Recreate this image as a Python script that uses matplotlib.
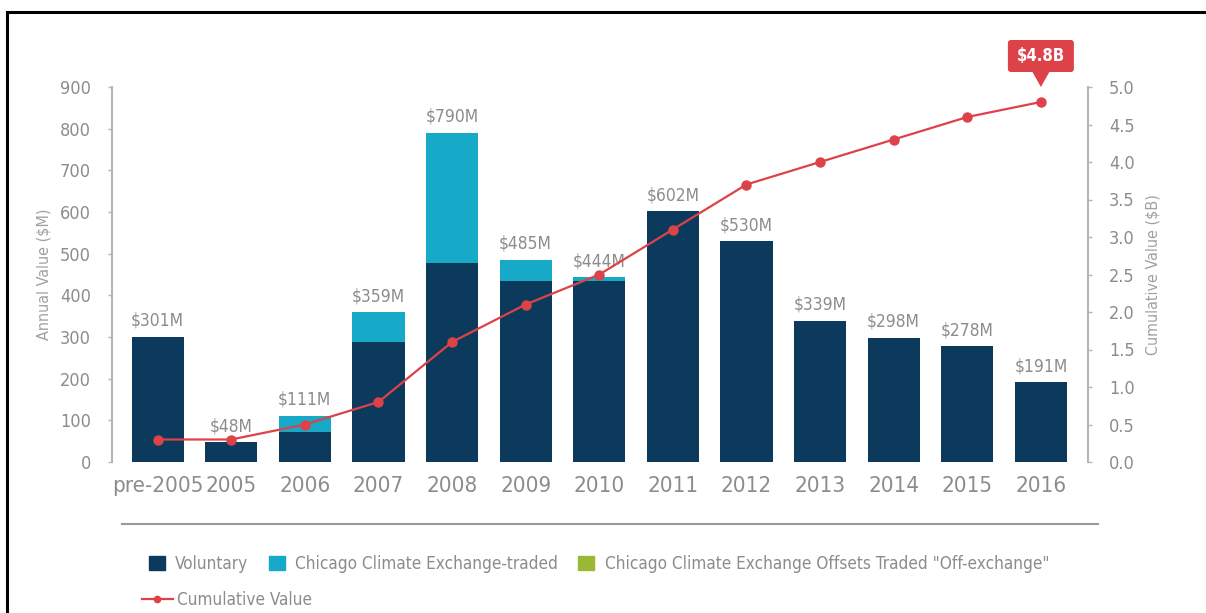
import matplotlib
matplotlib.use("Agg")
import matplotlib.pyplot as plt
from matplotlib import font_manager as fm
from matplotlib.patches import FancyBboxPatch, Polygon, Patch
from matplotlib.lines import Line2D
import numpy as np

# ---- data ----
categories = ["pre-2005", "2005", "2006", "2007", "2008", "2009", "2010",
              "2011", "2012", "2013", "2014", "2015", "2016"]
voluntary = [301, 48, 72, 287, 478, 434, 435, 602, 530, 339, 298, 278, 191]
ccx_traded = [0, 0, 39, 72, 312, 51, 9, 0, 0, 0, 0, 0, 0]
ccx_off = [0, 0, 0, 0, 0, 0, 0, 0, 0, 0, 0, 0, 0]
totals = [301, 48, 111, 359, 790, 485, 444, 602, 530, 339, 298, 278, 191]
cumulative = [0.3, 0.3, 0.5, 0.8, 1.6, 2.1, 2.5, 3.1, 3.7, 4.0, 4.3, 4.6, 4.8]
final_label = "$4.8B"
series_names = ["Voluntary", "Chicago Climate Exchange-traded",
                'Chicago Climate Exchange Offsets Traded "Off-exchange"']
line_name = "Cumulative Value"

# ---- font: prefer a condensed face if one is installed ----
cond = None
for f in fm.fontManager.ttflist:
    fn = f.fname.lower()
    if ("condensed" in fn or "narrow" in fn) and "bold" not in fn and "oblique" not in fn and "italic" not in fn:
        cond = f
        break
if cond is not None:
    plt.rcParams['font.family'] = [cond.name, 'DejaVu Sans']
    plt.rcParams['font.stretch'] = cond.stretch
    S = dict(tick=13, xtick=16, bar=12.5, label=11.5, legend=12.3)
else:
    plt.rcParams['font.family'] = ['DejaVu Sans']
    S = dict(tick=11.5, xtick=14, bar=10.5, label=10, legend=10.5)

NAVY = "#0b3a5d"
CYAN = "#16a9c8"
GREEN = "#9ab834"
RED = "#dd4248"
GRAY = "#8c8c8c"
AXGRAY = "#b5b5b5"

W, H = 1206, 613
fig = plt.figure(figsize=(W / 100, H / 100), dpi=100)

def fx(px):
    return px / W

def fy(py):
    return 1 - py / H

ax = fig.add_axes([fx(112), fy(462), fx(1088) - fx(112), fy(87) - fy(462)])
ax2 = ax.twinx()

x = np.arange(len(categories))
bw = 0.71
ax.bar(x, voluntary, bw, color=NAVY, zorder=2)
ax.bar(x, ccx_traded, bw, bottom=voluntary, color=CYAN, zorder=2)
bottom2 = np.array(voluntary) + np.array(ccx_traded)
ax.bar(x, ccx_off, bw, bottom=bottom2, color=GREEN, zorder=2)

for xi, t in zip(x, totals):
    ax.annotate(f"${t}M", (xi, t), xytext=(0, 5), textcoords="offset points",
                ha="center", va="bottom", fontsize=S['bar'], color=GRAY)

ax.set_xlim(-0.62, len(categories) - 1 + 0.64)
ax.set_ylim(0, 900)
ax.set_yticks(range(0, 901, 100))
ax2.set_ylim(0, 5.0)
rticks = np.arange(0, 5.01, 0.5)
ax2.set_yticks(rticks)
ax2.set_yticklabels([f"{v:.1f}" for v in rticks])

ax2.plot(x, cumulative, color=RED, lw=1.6, marker="o", ms=6.5, zorder=5)

for a in (ax, ax2):
    a.spines["top"].set_visible(False)
    a.spines["bottom"].set_visible(False)
    a.patch.set_visible(False)
ax.spines["right"].set_visible(False)
ax2.spines["left"].set_visible(False)
ax.spines["left"].set_color(AXGRAY)
ax.spines["left"].set_linewidth(1.5)
ax2.spines["right"].set_color(AXGRAY)
ax2.spines["right"].set_linewidth(1.5)

ax.tick_params(axis="y", colors=AXGRAY, labelcolor=GRAY, labelsize=S['tick'], length=3, width=1, pad=12)
ax2.tick_params(axis="y", colors=AXGRAY, labelcolor=GRAY, labelsize=S['tick'], length=3, width=1, pad=12)
ax.tick_params(axis="x", length=0, labelsize=S['xtick'], labelcolor=GRAY, pad=10)
ax.set_xticks(x)
ax.set_xticklabels(categories)

ax.set_ylabel("Annual Value ($M)", fontsize=S['label'], color="#a0a0a0")
ax2.set_ylabel("Cumulative Value ($B)", fontsize=S['label'], color="#a0a0a0")
ax.yaxis.set_label_coords((52 - 112) / 976, 0.5)
ax2.yaxis.set_label_coords((1146 - 112) / 976, 0.5)

# callout on the last cumulative point
fig.canvas.draw()
disp = ax2.transData.transform((x[-1], cumulative[-1]))
cx = disp[0]
box_w, box_h = 66, 32
tip_y = disp[1] + 15
box_bottom = tip_y + 15
box = FancyBboxPatch((cx - box_w / 2, box_bottom), box_w, box_h,
                     boxstyle="round,pad=0,rounding_size=3", transform=None,
                     facecolor=RED, edgecolor="none", zorder=10)
fig.patches.append(box)
tri = Polygon([[cx - 9, box_bottom + 1], [cx + 9, box_bottom + 1], [cx, tip_y]],
              closed=True, transform=None, facecolor=RED, edgecolor="none", zorder=10)
fig.patches.append(tri)
fig.text(cx / W, (box_bottom + box_h / 2) / H, final_label, ha="center", va="center",
         fontsize=12, color="white", fontweight="bold", zorder=11)

# separator line
fig.add_artist(Line2D([fx(122), fx(1098)], [fy(524), fy(524)], color="#9a9a9a", lw=1.5))

# border (left and top)
fig.add_artist(Line2D([fx(6.5), fx(6.5)], [fy(12), 0], color="black", lw=2.2))
fig.add_artist(Line2D([fx(6.5), 1], [fy(12), fy(12)], color="black", lw=2.2))

# legends
handles1 = [Patch(color=c, label=n) for c, n in zip([NAVY, CYAN, GREEN], series_names)]
fig.legend(handles=handles1, loc="center left", bbox_to_anchor=(fx(149), fy(564)),
           ncol=3, frameon=False, fontsize=S['legend'], handlelength=0.93, handleheight=0.9,
           handletextpad=0.6, columnspacing=1.2, labelcolor=GRAY, borderaxespad=0,
           borderpad=0)
h2 = [Line2D([0], [0], color=RED, lw=1.6, marker="o", ms=4.5, label=line_name)]
fig.legend(handles=h2, loc="center left", bbox_to_anchor=(fx(142), fy(600)),
           frameon=False, fontsize=S['legend'], handlelength=1.8, handletextpad=0.25,
           labelcolor=GRAY, borderaxespad=0, borderpad=0)

fig.savefig("out.png", dpi=100)
